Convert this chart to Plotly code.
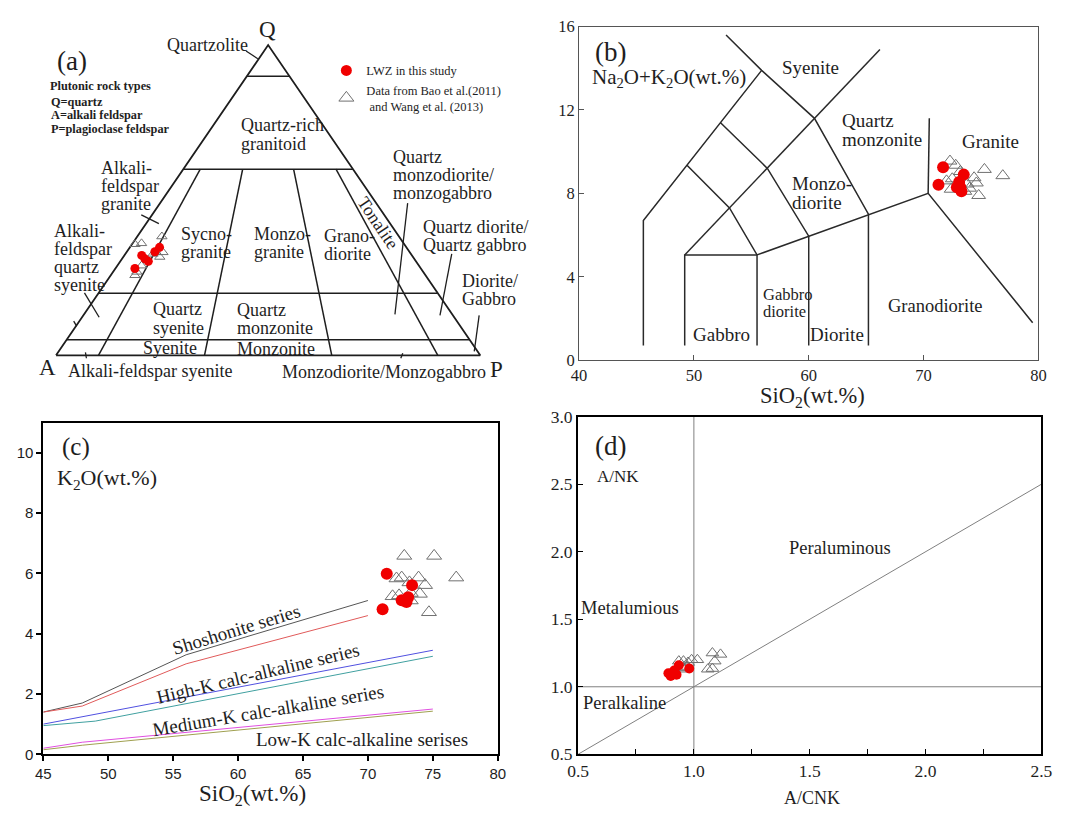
import plotly.graph_objects as go

W, H = 1068, 815
SERIF = "Liberation Serif, Times New Roman, serif"
SANS = "Liberation Sans, Arial, sans-serif"
INK = "#1e1e1e"
RED = "#f00000"
GREY = "#707070"

# ---------------- (a) QAP modal composition (vol.%) ----------------
lwz_Q = [28.0, 32.2, 31.1, 30.3, 33.4, 34.8]
lwz_A = [67.4, 63.7, 63.5, 63.1, 60.0, 58.2]
lwz_P = [4.6, 4.1, 5.4, 6.6, 6.6, 7.0]

ref_Q = [35.8, 36.1, 38.3, 33.2, 33.2, 31.7, 26.9, 25.8, 28.9, 32.7]
ref_A = [63.5, 61.8, 55.9, 59.8, 58.2, 59.7, 67.5, 68.5, 65.4, 60.8]
ref_P = [0.7, 2.1, 5.8, 7.0, 8.6, 8.6, 5.6, 5.7, 5.7, 6.5]

# Streckeisen field boundaries: Q levels and P/(A+P) ratios
qap_q_levels = [90, 60, 20, 5]
qap_ratios = [0.10, 0.35, 0.65, 0.90]

# ---------------- (b) SiO2 vs Na2O+K2O ----------------
lwz_sio2_b = [71.7, 71.3, 73.5, 72.9, 73.3, 73.1, 73.2]
lwz_alk = [9.25, 8.42, 8.90, 8.30, 8.10, 8.55, 8.30]

ref_sio2_b = [72.3, 72.8, 73.2, 75.3, 76.9, 74.4, 74.6, 72.0, 72.5, 73.8, 74.0, 73.6, 74.8, 72.4]
ref_alk = [9.55, 9.35, 9.05, 9.15, 8.85, 8.75, 8.50, 8.60, 8.70, 8.45, 8.25, 8.10, 7.90, 8.20]

# plutonic TAS field boundaries (SiO2, Na2O+K2O)
tas_boundaries = [
    [(49.2, 5.05), (66.2, 14.9)],
    [(52.8, 15.6), (55.9, 13.9), (60.5, 11.6), (65.2, 7.0), (65.2, 0.7)],
    [(55.9, 13.9), (45.6, 6.7), (45.6, 0.7)],
    [(52.3, 11.4), (56.4, 9.2), (60.0, 5.95), (60.0, 0.7)],
    [(49.4, 9.35), (53.1, 7.3), (55.5, 5.05), (55.5, 0.7)],
    [(49.2, 0.7), (49.2, 5.05), (55.5, 5.05)],
    [(55.5, 5.05), (70.4, 8.0), (79.5, 1.8)],
    [(70.4, 8.0), (70.5, 11.6)],
]

# ---------------- (c) SiO2 vs K2O ----------------
lwz_sio2_c = [71.45, 73.4, 72.6, 73.1, 72.97, 71.13]
lwz_k2o = [5.99, 5.61, 5.11, 5.21, 5.05, 4.81]

ref_sio2_c = [72.8, 75.1, 76.8, 72.2, 72.6, 73.9, 74.4, 73.2, 71.9, 72.4, 73.3, 74.0, 74.7, 73.3]
ref_k2o = [6.58, 6.58, 5.86, 5.83, 5.86, 5.86, 5.61, 5.70, 5.24, 5.27, 5.35, 5.32, 4.71, 5.10]

# series boundary curves: (SiO2 list, K2O list, colour)
k2o_series_lines = [
    ([45, 48, 56, 70], [1.4, 1.7, 3.3, 5.1], "#555555"),
    ([45, 48, 56, 70], [1.4, 1.6, 3.0, 4.6], "#e05a5a"),
    ([45, 75], [1.0, 3.45], "#5050e0"),
    ([45, 49, 75], [0.95, 1.1, 3.25], "#40a0a0"),
    ([45, 48, 75], [0.2, 0.4, 1.5], "#e050e0"),
    ([45, 48, 75], [0.15, 0.3, 1.43], "#a0a050"),
]

# ---------------- (d) A/CNK vs A/NK ----------------
lwz_acnk = [0.89, 0.90, 0.915, 0.925, 0.935, 0.98]
lwz_ank = [1.10, 1.08, 1.12, 1.09, 1.16, 1.135]

ref_acnk = [0.935, 0.955, 0.975, 1.015, 0.96, 0.97, 1.08, 1.115, 1.09, 1.06, 1.08, 0.955, 0.99]
ref_ank = [1.19, 1.19, 1.18, 1.20, 1.13, 1.15, 1.25, 1.24, 1.19, 1.13, 1.135, 1.14, 1.20]


def qap_xy(Q, A, P):
    """Ternary Q-A-P -> cartesian (A at 0,0; P at 100,0; Q at 50,100)."""
    xs, ys = [], []
    for q, a, p in zip(Q, A, P):
        s = q + a + p
        qn, pn = q / s * 100, p / s * 100
        xs.append(pn + qn / 2)
        ys.append(qn)
    return xs, ys


fig = go.Figure()

# ---- (a) triangle outline and fields
tri_x, tri_y = qap_xy([0, 0, 100, 0], [100, 0, 0, 100], [0, 100, 0, 0])
fig.add_trace(go.Scatter(x=tri_x, y=tri_y, mode="lines", line=dict(color=INK, width=1.8),
                         xaxis="x", yaxis="y", showlegend=False, hoverinfo="skip"))
fx, fy = [], []
for q in qap_q_levels:
    lx, ly = qap_xy([q, q], [100 - q, 0], [0, 100 - q])
    fx += lx + [None]
    fy += ly + [None]
for r in qap_ratios:
    lx, ly = qap_xy([60, 0], [40 * (1 - r), 100 * (1 - r)], [40 * r, 100 * r])
    fx += lx + [None]
    fy += ly + [None]
fig.add_trace(go.Scatter(x=fx, y=fy, mode="lines", line=dict(color=INK, width=1.5),
                         xaxis="x", yaxis="y", showlegend=False, hoverinfo="skip"))
ax_, ay_ = qap_xy(ref_Q, ref_A, ref_P)
fig.add_trace(go.Scatter(x=ax_, y=ay_, mode="markers", xaxis="x", yaxis="y", showlegend=False,
                         marker=dict(symbol="triangle-up-open", size=9, color=GREY, line=dict(width=1))))
ax_, ay_ = qap_xy(lwz_Q, lwz_A, lwz_P)
fig.add_trace(go.Scatter(x=ax_, y=ay_, mode="markers", xaxis="x", yaxis="y", showlegend=False,
                         marker=dict(symbol="circle", size=9, color=RED)))

# legend entries
fig.add_trace(go.Scatter(x=[None], y=[None], mode="markers", xaxis="x", yaxis="y",
                         name="LWZ in this study", marker=dict(symbol="circle", size=11, color=RED)))
fig.add_trace(go.Scatter(x=[None], y=[None], mode="markers", xaxis="x", yaxis="y",
                         name="Data from Bao et al.(2011)<br> and Wang et al. (2013)",
                         marker=dict(symbol="triangle-up-open", size=13, color=GREY, line=dict(width=1))))

# ---- (b) TAS
for seg in tas_boundaries:
    fig.add_trace(go.Scatter(x=[p[0] for p in seg], y=[p[1] for p in seg], mode="lines",
                             line=dict(color="#2a2a2a", width=1.5), xaxis="x2", yaxis="y2",
                             showlegend=False, hoverinfo="skip"))
fig.add_trace(go.Scatter(x=ref_sio2_b, y=ref_alk, mode="markers", xaxis="x2", yaxis="y2", showlegend=False,
                         marker=dict(symbol="triangle-up-open", size=12, color=GREY, line=dict(width=1))))
fig.add_trace(go.Scatter(x=lwz_sio2_b, y=lwz_alk, mode="markers", xaxis="x2", yaxis="y2", showlegend=False,
                         marker=dict(symbol="circle", size=12, color=RED)))

# ---- (c) K2O-SiO2
for xs, ys, col in k2o_series_lines:
    fig.add_trace(go.Scatter(x=xs, y=ys, mode="lines", line=dict(color=col, width=1),
                             xaxis="x3", yaxis="y3", showlegend=False, hoverinfo="skip"))
fig.add_trace(go.Scatter(x=ref_sio2_c, y=ref_k2o, mode="markers", xaxis="x3", yaxis="y3", showlegend=False,
                         marker=dict(symbol="triangle-up-open", size=13, color=GREY, line=dict(width=1))))
fig.add_trace(go.Scatter(x=lwz_sio2_c, y=lwz_k2o, mode="markers", xaxis="x3", yaxis="y3", showlegend=False,
                         marker=dict(symbol="circle", size=12, color=RED)))

# ---- (d) A/NK - A/CNK
ref_lines = [([1.0, 1.0], [0.5, 3.0]), ([0.5, 2.5], [1.0, 1.0]), ([0.5, 2.5], [0.5, 2.5])]
for xs, ys in ref_lines:
    fig.add_trace(go.Scatter(x=xs, y=ys, mode="lines", line=dict(color="#808080", width=1),
                             xaxis="x4", yaxis="y4", showlegend=False, hoverinfo="skip"))
fig.add_trace(go.Scatter(x=ref_acnk, y=ref_ank, mode="markers", xaxis="x4", yaxis="y4", showlegend=False,
                         marker=dict(symbol="triangle-up-open", size=11, color=GREY, line=dict(width=1))))
fig.add_trace(go.Scatter(x=lwz_acnk, y=lwz_ank, mode="markers", xaxis="x4", yaxis="y4", showlegend=False,
                         marker=dict(symbol="circle", size=10, color=RED)))


def px(x):
    return x / W


def py(y):
    return 1 - y / H


annotations = []


def label(txt, x, y, size=18, anchor="left", angle=0, family=SERIF, color=INK):
    annotations.append(dict(text=txt, x=px(x), y=py(y), xref="paper", yref="paper",
                            xanchor=anchor, yanchor="middle", showarrow=False, textangle=angle,
                            font=dict(family=family, size=size, color=color)))


def stack(lines, x, y0, dy=18.5, size=18, anchor="left"):
    for i, t in enumerate(lines):
        label(t, x, y0 + i * dy, size=size, anchor=anchor)


# (a) labels
label("Q", 262, 20, size=23, anchor="center")
label("Quartzolite", 201, 36, anchor="center")
label("(a)", 62, 52, size=27, anchor="center")
for i, t in enumerate(["Plutonic rock types", "Q=quartz", "A=alkali feldspar", "P=plagioclase feldspar"]):
    label("<b>" + t + "</b>", 38 if i == 0 else 39, 78 + i * 13.5 + (3 if i else 0), size=12.3)
stack(["Quartz-rich", "granitoid"], 233, 118, dy=19)
stack(["Alkali-", "feldspar", "granite"], 90, 162)
stack(["Quartz", "monzodiorite/", "monzogabbro"], 388, 151)
label("Tonalite", 375, 218, anchor="center", angle=56)
stack(["Sycno-", "granite"], 172, 229.5)
stack(["Monzo-", "granite"], 246, 229.5)
stack(["Grano-", "diorite"], 318, 231.5)
stack(["Quartz diorite/", "Quartz gabbro"], 419, 222.5)
stack(["Diorite/", "Gabbro"], 458, 278)
stack(["Alkali-", "feldspar", "quartz", "syenite"], 42, 226.5)
stack(["Quartz", "syenite"], 143, 307)
stack(["Quartz", "monzonite"], 229, 308)
label("Syenite", 162, 347, anchor="center")
label("Monzonite", 271, 348, anchor="center")
label("A", 37, 366, size=23, anchor="center")
label("P", 496, 369, size=23, anchor="center")
label("Alkali-feldspar syenite", 142, 370, anchor="center")
label("Monzodiorite/Monzogabbro", 381, 371, anchor="center")

# (b) labels
label("(b)", 612, 43, size=27, anchor="center")
label("Na<sub>2</sub>O+K<sub>2</sub>O(wt.%)", 591, 70, size=21)
label("Syenite", 816, 59, size=19, anchor="center")
stack(["Quartz", "monzonite"], 846, 113, dy=20, size=19)
label("Granite", 1000, 135, size=19, anchor="center")
stack(["Monzo-", "diorite"], 795, 178, dy=19, size=19)
stack(["Gabbro", "diorite"], 766, 292, dy=17, size=16.5)
label("Gabbro", 725, 333, size=19, anchor="center")
label("Diorite", 843, 333, size=19, anchor="center")
label("Granodiorite", 944, 303, size=18.5, anchor="center")
label("SiO<sub>2</sub>(wt.%)", 818, 397, size=22.5, anchor="center")

# (c) labels
label("(c)", 66, 448, size=25, anchor="center")
label("K<sub>2</sub>O(wt.%)", 45, 481, size=22)
label("Shoshonite series", 230, 635, size=19, anchor="center", angle=-17)
label("High-K calc-alkaline series", 252, 680, size=19, anchor="center", angle=-13.5)
label("Medium-K calc-alkaline series", 262, 718, size=19, anchor="center", angle=-9.5)
label("Low-K calc-alkaline serises", 358, 748, size=19, anchor="center")
label("SiO<sub>2</sub>(wt.%)", 247, 805, size=23, anchor="center")

# (d) labels
label("(d)", 612, 447, size=27, anchor="center")
label("A/NK", 620, 478, size=17, anchor="center")
label("Peraluminous", 846, 552, size=18.5, anchor="center")
label("Metalumious", 632, 613, size=18.5, anchor="center")
label("Peralkaline", 626, 710, size=18.5, anchor="center")
label("A/CNK", 818, 808, size=18, anchor="center")

# leader lines in (a)
leaders = [
    ((240, 42), (252, 50)),
    ((133, 210), (151, 219)),
    ((75, 290), (90, 315)),
    ((64, 319), (67, 324)),
    ((405, 198), (392, 312)),
    ((450, 250), (438, 313)),
    ((478, 313), (473, 350)),
    ((76, 351), (77, 357)),
    ((400, 352), (398, 357)),
]
shapes = [dict(type="line", xref="paper", yref="paper", x0=px(a[0]), y0=py(a[1]), x1=px(b[0]), y1=py(b[1]),
               line=dict(color=INK, width=1.3)) for a, b in leaders]

serif_tick = dict(family=SERIF, size=16.5, color=INK)

fig.update_layout(
    width=W, height=H, margin=dict(l=0, r=0, t=0, b=0),
    paper_bgcolor="white", plot_bgcolor="white",
    annotations=annotations, shapes=shapes,
    legend=dict(x=px(322), y=py(47), xanchor="left", yanchor="top", bgcolor="rgba(0,0,0,0)",
                font=dict(family=SERIF, size=12.5, color=INK), tracegroupgap=2, itemsizing="trace"),
    xaxis=dict(domain=[0, px(525)], range=[-10.62, 110.6], visible=False, fixedrange=True),
    yaxis=dict(domain=[py(400), 1], range=[-14.47, 111.32], visible=False, fixedrange=True),
    xaxis2=dict(domain=[px(580), px(1049)], range=[40, 80], dtick=10, ticks="inside", ticklen=5,
                tickcolor="#555", showline=True, mirror=True, linecolor="#555", linewidth=1.2,
                showgrid=False, zeroline=False, tickfont=serif_tick, anchor="y2"),
    yaxis2=dict(domain=[py(359), py(17)], range=[0, 16], dtick=4, ticks="inside", ticklen=5,
                tickcolor="#555", showline=True, mirror=True, linecolor="#555", linewidth=1.2,
                showgrid=False, zeroline=False, tickfont=serif_tick, anchor="x2"),
    xaxis3=dict(domain=[px(33), px(497)], range=[45, 80], dtick=5, ticks="outside", ticklen=5, tickwidth=1.5,
                tickcolor="black", showline=True, mirror=True, linecolor="black", linewidth=2,
                showgrid=False, zeroline=False, tickfont=dict(family=SANS, size=15, color=INK), anchor="y3"),
    yaxis3=dict(domain=[py(763), py(423)], range=[0, 11], dtick=2, ticks="outside", ticklen=5, tickwidth=1.5,
                tickcolor="black", showline=True, mirror=True, linecolor="black", linewidth=2,
                showgrid=False, zeroline=False, tickfont=dict(family=SANS, size=15, color=INK), anchor="x3"),
    xaxis4=dict(domain=[px(579), px(1052)], range=[0.5, 2.5], dtick=0.5, tickformat=".1f",
                ticks="inside", ticklen=5, tickcolor="black", showline=True, mirror=True,
                linecolor="black", linewidth=2, showgrid=False, zeroline=False,
                minor=dict(dtick=0.25, ticks="inside", ticklen=5, tickcolor="black"),
                tickfont=dict(family=SERIF, size=17.5, color=INK), anchor="y4"),
    yaxis4=dict(domain=[py(763), py(417)], range=[0.5, 3.0], dtick=0.5, tickformat=".1f",
                ticks="inside", ticklen=5, tickcolor="black", showline=True, mirror=True,
                linecolor="black", linewidth=2, showgrid=False, zeroline=False,
                tickfont=dict(family=SERIF, size=17.5, color=INK), anchor="x4"),
)

# page without the default browser margin/scrollbars so the figure fills the window
page_css = ("document.documentElement.style.margin='0';document.documentElement.style.overflow='hidden';"
            "document.body.style.margin='0';document.body.style.padding='0';document.body.style.overflow='hidden';")
fig.write_html("out.html", post_script=page_css)
